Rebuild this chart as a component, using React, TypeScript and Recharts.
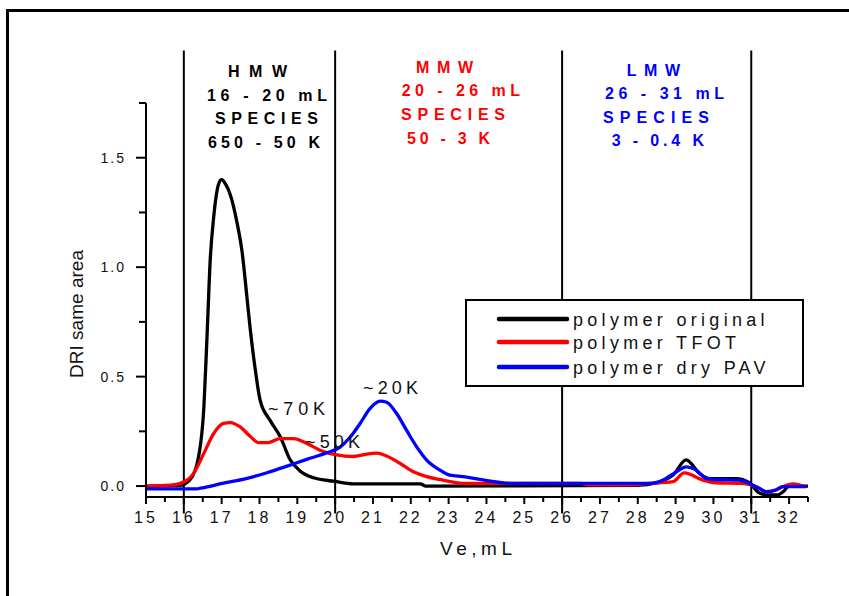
import { Legend, Line, LineChart, ReferenceLine, XAxis, YAxis } from "recharts";

// elution volume (mL) / DRI response
const originalVe = [15, 15.9, 16.17, 16.39, 16.53, 16.61, 16.7, 16.79, 16.92, 17.0, 17.1, 17.23, 17.41, 17.54, 17.67, 17.76, 17.89, 18.02, 18.28, 18.55, 18.81, 19.08, 19.43, 19.96, 20.48, 22.25, 22.4, 28.0, 28.5, 28.93, 29.28, 29.63, 29.9, 30.6, 30.95, 31.2, 31.4, 31.7, 31.85, 32.0, 32.5];
const originalDri = [0, 0.003, 0.03, 0.134, 0.36, 0.67, 1.04, 1.23, 1.38, 1.4, 1.38, 1.33, 1.2, 1.07, 0.86, 0.71, 0.53, 0.39, 0.3, 0.225, 0.12, 0.068, 0.038, 0.022, 0.01, 0.01, 0.0, 0.003, 0.015, 0.05, 0.12, 0.058, 0.034, 0.034, 0.015, -0.03, -0.04, -0.04, -0.025, 0.0, 0.0];

const tfotVe = [15, 15.65, 15.91, 16.26, 16.53, 16.79, 17.05, 17.23, 17.49, 17.76, 17.98, 18.2, 18.55, 18.9, 19.25, 19.6, 20.04, 20.48, 20.84, 21.1, 21.36, 21.71, 22.07, 22.42, 22.77, 23.47, 26.5, 26.7, 27.7, 28.3, 28.93, 29.23, 29.72, 30.07, 30.77, 31.13, 31.39, 31.65, 31.83, 32.1, 32.45];
const tfotDri = [0, 0.004, 0.012, 0.058, 0.15, 0.24, 0.286, 0.29, 0.27, 0.226, 0.198, 0.198, 0.217, 0.217, 0.195, 0.164, 0.142, 0.135, 0.146, 0.15, 0.137, 0.104, 0.065, 0.043, 0.03, 0.012, 0.012, 0.005, 0.005, 0.012, 0.02, 0.06, 0.027, 0.015, 0.012, -0.003, -0.026, -0.018, -0.003, 0.01, -0.003];

const pavVe = [15, 16.35, 16.44, 17.05, 17.67, 18.2, 18.73, 19.25, 19.78, 20.13, 20.4, 20.66, 20.92, 21.19, 21.36, 21.63, 21.89, 22.16, 22.42, 22.77, 23.03, 23.38, 23.83, 24.7, 28.3, 28.66, 29.02, 29.28, 29.54, 29.81, 30.07, 30.69, 30.95, 31.21, 31.39, 31.65, 31.83, 32.45];
const pavDri = [-0.013, -0.013, -0.01, 0.013, 0.035, 0.061, 0.091, 0.122, 0.152, 0.178, 0.224, 0.286, 0.354, 0.388, 0.383, 0.33, 0.254, 0.178, 0.119, 0.073, 0.05, 0.043, 0.03, 0.012, 0.012, 0.027, 0.065, 0.088, 0.073, 0.035, 0.03, 0.027, 0.012, -0.01, -0.026, -0.018, -0.003, -0.003];

const seriesNames = ["polymer original", "polymer TFOT", "polymer dry PAV"];
const regionBounds = [16, 20, 26, 31];
const xMajorTicks = [15, 16, 17, 18, 19, 20, 21, 22, 23, 24, 25, 26, 27, 28, 29, 30, 31, 32];
const xMinorTicks = [15.5, 16.5, 17.5, 18.5, 19.5, 20.5, 21.5, 22.5, 23.5, 24.5, 25.5, 26.5, 27.5, 28.5, 29.5, 30.5, 31.5, 32.5];
const yMajorTicks = [0, 0.5, 1, 1.5];
const yMinorTicks = [0.25, 0.75, 1.25, 1.75];

const FONT = "Arial, 'Liberation Sans', Helvetica, sans-serif";

const toPoints = (ve: number[], dri: number[]) => ve.map((v, i) => ({ ve: v, dri: dri[i] }));

function XTick({ x, y, payload }: any) {
  const v = payload.value as number;
  const major = Number.isInteger(v);
  return (
    <g>
      <line x1={x} x2={x} y1={y} y2={y + (major ? 7 : 5)} stroke="#000" strokeWidth={2} />
      {major && (
        <text x={x} y={y + 26} textAnchor="middle" fontSize={16} letterSpacing={3} fill="#111" fontFamily={FONT}>
          {v}
        </text>
      )}
    </g>
  );
}

function YTick({ x, y, payload }: any) {
  const v = payload.value as number;
  const major = yMajorTicks.includes(v);
  return (
    <g>
      <line x1={x - (major ? 10 : 7)} x2={x} y1={y} y2={y} stroke="#000" strokeWidth={2} />
      {major && (
        <text x={x - 20} y={y + 5} textAnchor="end" fontSize={14} letterSpacing={2} fill="#111" fontFamily={FONT}>
          {v.toFixed(1)}
        </text>
      )}
    </g>
  );
}

function LegendBox({ payload }: any) {
  const rows = [20, 43, 68];
  const items = [...(payload || [])].sort((a: any, b: any) => seriesNames.indexOf(a.value) - seriesNames.indexOf(b.value));
  return (
    <div style={{ width: 339, height: 88, boxSizing: "border-box", border: "2px solid #000", background: "#fff" }}>
      <svg width={335} height={84}>
        {items.map((entry: any, i: number) => (
          <g key={entry.value}>
            <line x1={32} x2={100} y1={rows[i] - 2} y2={rows[i] - 2} stroke={entry.color} strokeWidth={4.5} strokeLinecap="round" />
            <text x={106} y={rows[i] + 5} fontSize={18} letterSpacing={4.3} fill="#111" fontFamily={FONT}>
              {entry.value}
            </text>
          </g>
        ))}
      </svg>
    </div>
  );
}

const headers = [
  { color: "#000", lines: [["HMW", 228, 59, 70.7], ["16 - 20 mL", 207, 120, 95], ["SPECIES", 215, 103, 118], ["650 - 50 K", 208, 112, 141.7]] },
  { color: "#ff0000", lines: [["MMW", 416, 57, 66.7], ["20 - 26 mL", 401.7, 118.3, 90], ["SPECIES", 401, 104, 114.3], ["50 - 3 K", 407, 83, 137.7]] },
  { color: "#0000ff", lines: [["LMW", 626.7, 53.3, 70], ["26 - 31 mL", 605, 119, 93.3], ["SPECIES", 603, 106, 116.7], ["3 - 0.4 K", 611.7, 92.3, 140]] },
];

const peakNotes = [
  ["~70K", 268, 57, 408],
  ["~50K", 305, 55, 441],
  ["~20K", 363, 55, 387],
];

export default function App() {
  return (
    <div style={{ position: "absolute", left: 0, top: 0, width: 849, height: 596, overflow: "hidden", background: "#fff", fontFamily: FONT }}>
      <div style={{ position: "absolute", left: 6, top: 9, width: 900, height: 700, borderTop: "3px solid #000", borderLeft: "3px solid #000" }} />
      <LineChart width={849} height={596} margin={{ top: 103, right: 41, bottom: 0, left: 0 }}>
        <XAxis
          type="number"
          dataKey="ve"
          domain={[15, 32.5]}
          ticks={[...xMajorTicks, ...xMinorTicks].sort((a, b) => a - b)}
          interval={0}
          allowDataOverflow
          height={99}
          tickSize={0}
          tickMargin={0}
          tickLine={false}
          tick={<XTick />}
          axisLine={{ stroke: "#000", strokeWidth: 2 }}
          label={{
            content: () => (
              <text x={440} y={555} fontSize={19} textLength={72} lengthAdjust="spacing" fill="#111" fontFamily={FONT}>
                Ve,mL
              </text>
            ),
          }}
        />
        <YAxis
          type="number"
          domain={[-0.05, 1.75]}
          ticks={[...yMajorTicks, ...yMinorTicks].sort((a, b) => a - b)}
          interval={0}
          allowDataOverflow
          width={146}
          tickSize={0}
          tickMargin={0}
          tickLine={false}
          tick={<YTick />}
          axisLine={{ stroke: "#000", strokeWidth: 2 }}
          label={{
            content: () => (
              <text transform="translate(83,314) rotate(-90)" textAnchor="middle" fontSize={19} textLength={128} lengthAdjust="spacing" fill="#111" fontFamily={FONT}>
                DRI same area
              </text>
            ),
          }}
        />
        {regionBounds.map((b) => (
          <ReferenceLine
            key={b}
            segment={[{ x: b, y: -0.125 }, { x: b, y: 1.99 }]}
            ifOverflow="visible"
            stroke="#000"
            strokeWidth={2}
          />
        ))}
        <Line data={toPoints(originalVe, originalDri)} dataKey="dri" name={seriesNames[0]} type="monotone" stroke="#000" strokeWidth={3.3} dot={false} isAnimationActive={false} />
        <Line data={toPoints(tfotVe, tfotDri)} dataKey="dri" name={seriesNames[1]} type="monotone" stroke="#ff0000" strokeWidth={3.3} dot={false} isAnimationActive={false} />
        <Line data={toPoints(pavVe, pavDri)} dataKey="dri" name={seriesNames[2]} type="monotone" stroke="#0000ff" strokeWidth={3.3} dot={false} isAnimationActive={false} />
        <Legend
          layout="vertical"
          align="center"
          verticalAlign="middle"
          content={<LegendBox />}
          wrapperStyle={{ left: 465, top: 299, width: 339, height: 88 }}
        />
      </LineChart>
      <svg width={849} height={596} style={{ position: "absolute", left: 0, top: 0, pointerEvents: "none" }}>
        {headers.map((h) =>
          h.lines.map(([t, x, w, c]) => (
            <text key={`${h.color}-${t}`} x={x as number} y={(c as number) + 6} fontSize={16} fontWeight="bold" textLength={w as number} lengthAdjust="spacing" fill={h.color} fontFamily={FONT}>
              {t}
            </text>
          ))
        )}
        {peakNotes.map(([t, x, w, c]) => (
          <text key={t as string} x={x as number} y={(c as number) + 6.5} fontSize={18} textLength={w as number} lengthAdjust="spacing" fill="#111" fontFamily={FONT}>
            {t}
          </text>
        ))}
      </svg>
    </div>
  );
}
